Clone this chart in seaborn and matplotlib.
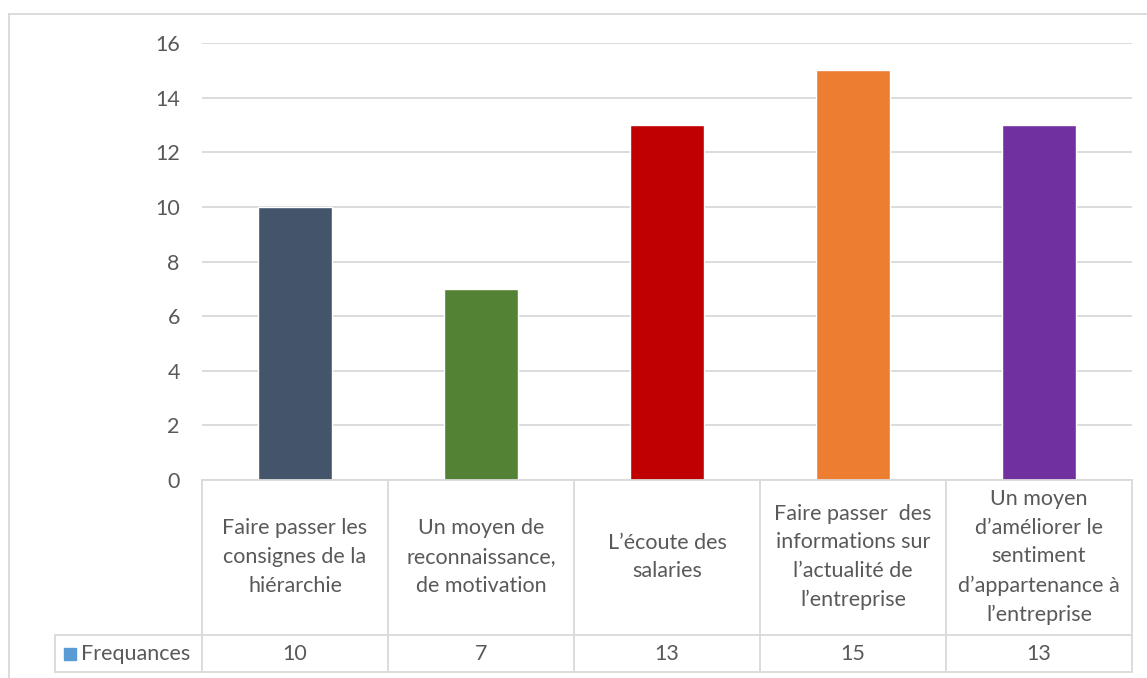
import matplotlib.pyplot as plt
import matplotlib.transforms as mtransforms
from matplotlib.lines import Line2D
from matplotlib.patches import Rectangle
import seaborn as sns
import pandas as pd

# data
categories = [
    "Faire passer les\nconsignes de la\nhiérarchie",
    "Un moyen de\nreconnaissance,\nde motivation",
    "L’écoute des\nsalaries",
    "Faire passer  des\ninformations sur\nl’actualité de\nl’entreprise",
    "Un moyen\nd’améliorer le\nsentiment\nd’appartenance à\nl’entreprise",
]
frequances = [10, 7, 13, 15, 13]
bar_colors = ["#44546A", "#548235", "#C00000", "#ED7D31", "#7030A0"]
series_name = "Frequances"
series_color = "#5B9BD5"
y_ticks = [0, 2, 4, 6, 8, 10, 12, 14, 16]

W, H = 1147, 678
text_color = "#595959"
line_color = "#D9D9D9"
fs = 15.5

sns.set_style("white")
plt.rcParams["font.family"] = ["Lato", "DejaVu Sans"]


def fx(px):
    return px / W


def fy(py):
    return 1 - py / H


fig = plt.figure(figsize=(W / 100, H / 100), dpi=100)
ax = fig.add_axes([fx(202), fy(480), (1132 - 202) / W, (480 - 43) / H])

df = pd.DataFrame({"cat": categories, "freq": frequances})
sns.barplot(
    data=df,
    x="cat",
    y="freq",
    hue="cat",
    palette=bar_colors,
    saturation=1,
    width=0.4,
    legend=False,
    ax=ax,
)

ax.set_xlim(-0.5, len(categories) - 0.5)
ax.set_ylim(0, 16)
ax.set_yticks(y_ticks)
ax.set_xticks([])
ax.set_xlabel("")
ax.set_ylabel("")
ax.yaxis.grid(True, color=line_color, lw=1.3)
ax.set_axisbelow(True)
for s in ax.spines.values():
    s.set_visible(False)
ax.tick_params(axis="y", length=0, pad=16, labelsize=fs, labelcolor=text_color)

# data table below the plot
blend = mtransforms.blended_transform_factory(ax.transData, fig.transFigure)
bounds = [i - 0.5 for i in range(len(categories) + 1)]
x_left, x_right = bounds[0], bounds[-1]


def hline(y_px, x0, x1, tr=blend):
    fig.add_artist(Line2D([x0, x1], [fy(y_px), fy(y_px)], transform=tr,
                          color=line_color, lw=1.3))


def vline(x, y0_px, y1_px, tr=blend):
    fig.add_artist(Line2D([x, x], [fy(y0_px), fy(y1_px)], transform=tr,
                          color=line_color, lw=1.3))


hline(480, x_left, x_right)
for b in bounds:
    vline(b, 480, 672)
hline(635, x_left, x_right)
hline(672, x_left, x_right)
hline(635, fx(55), fx(202), tr=fig.transFigure)
hline(672, fx(55), fx(202), tr=fig.transFigure)
vline(fx(55), 635, 672, tr=fig.transFigure)

for i, (cat, val) in enumerate(zip(categories, frequances)):
    fig.text(i, fy(557), cat, transform=blend, ha="center", va="center",
             fontsize=fs, color=text_color, linespacing=1.55)
    fig.text(i, fy(654), str(val), transform=blend, ha="center", va="center",
             fontsize=fs, color=text_color)

fig.add_artist(Rectangle((fx(64), fy(660)), 12 / W, 12 / H,
                         transform=fig.transFigure, color=series_color))
fig.text(fx(81), fy(654), series_name, ha="left", va="center",
         fontsize=fs, color=text_color)

# chart area border
fig.add_artist(Line2D([fx(9), fx(9)], [fy(14), 0], transform=fig.transFigure,
                      color=line_color, lw=1.3))
fig.add_artist(Line2D([fx(9), 1], [fy(14), fy(14)], transform=fig.transFigure,
                      color=line_color, lw=1.3))

fig.savefig("out.png", dpi=100)
